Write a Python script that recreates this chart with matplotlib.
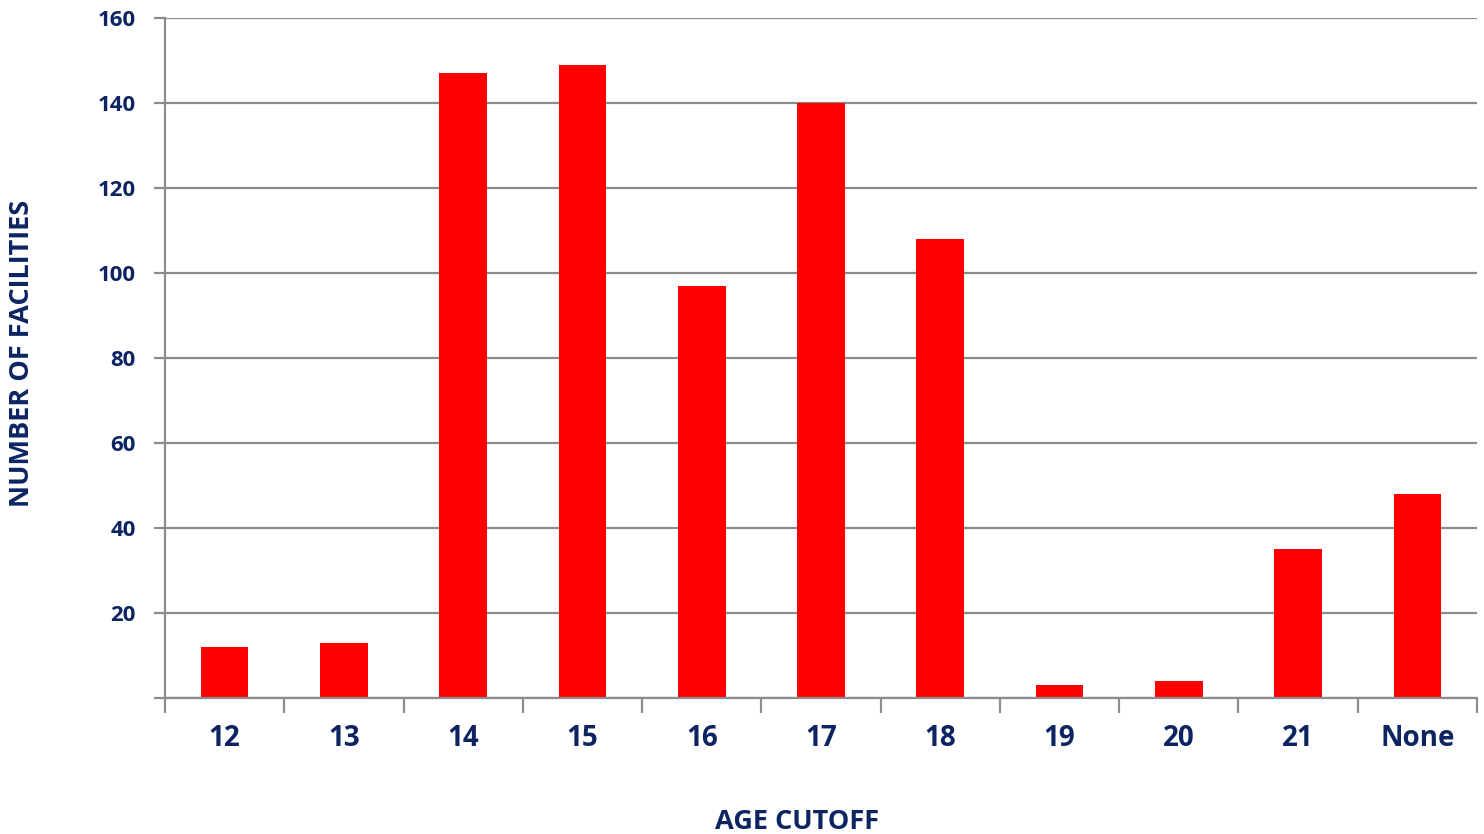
import numpy as np
import matplotlib.pyplot as plt

# === Data ===
age_cutoffs = ['12', '13', '14', '15', '16', '17', '18', '19', '20', '21', 'None']
facilities = [12, 13, 147, 149, 97, 140, 108, 3, 4, 35, 48]
y_ticks = [0, 20, 40, 60, 80, 100, 120, 140, 160]
y_tick_labels = ['', '20', '40', '60', '80', '100', '120', '140', '160']

navy = '#0c2461'
grid_gray = '#8c8c8c'

plt.rcParams['font.family'] = ['Open Sans', 'DejaVu Sans']
plt.rcParams['font.weight'] = 'bold'

fig = plt.figure(figsize=(14.84, 8.34), dpi=100)
ax = fig.add_axes([165 / 1484, 136 / 834, 1312 / 1484, 680 / 834])

x = np.arange(len(age_cutoffs))
ax.bar(x, facilities, width=0.4, color='#ff0000', zorder=3)

ax.set_xlim(-0.5, len(age_cutoffs) - 0.5)
ax.set_ylim(0, 160)

# y axis with gridlines
ax.set_yticks(y_ticks)
ax.set_yticklabels(y_tick_labels)
ax.yaxis.grid(True, color=grid_gray, linewidth=1.6, zorder=0)
ax.tick_params(axis='y', length=8, width=1.6, color=grid_gray, pad=13,
               labelsize=16, labelcolor=navy)

# x axis: ticks at category boundaries, labels centered
ax.set_xticks(np.arange(-0.5, len(age_cutoffs), 1.0))
ax.set_xticklabels([])
ax.set_xticks(x, minor=True)
ax.set_xticklabels(age_cutoffs, minor=True)
ax.tick_params(axis='x', which='major', length=11, width=1.6, color=grid_gray)
ax.tick_params(axis='x', which='minor', length=0, pad=19,
               labelsize=20, labelcolor=navy)

for side in ['top', 'right']:
    ax.spines[side].set_visible(False)
for side in ['left', 'bottom']:
    ax.spines[side].set_color(grid_gray)
    ax.spines[side].set_linewidth(1.6)
ax.spines['bottom'].set_zorder(4)

fig.text(797 / 1484, 1 - 822 / 834, 'AGE CUTOFF', ha='center', va='center',
         fontsize=19.5, fontweight='bold', color=navy)
fig.text(22 / 1484, 1 - 353 / 834, 'NUMBER OF FACILITIES', ha='center', va='center',
         rotation=90, fontsize=19.5, fontweight='bold', color=navy)

fig.savefig('out.png', dpi=100)
